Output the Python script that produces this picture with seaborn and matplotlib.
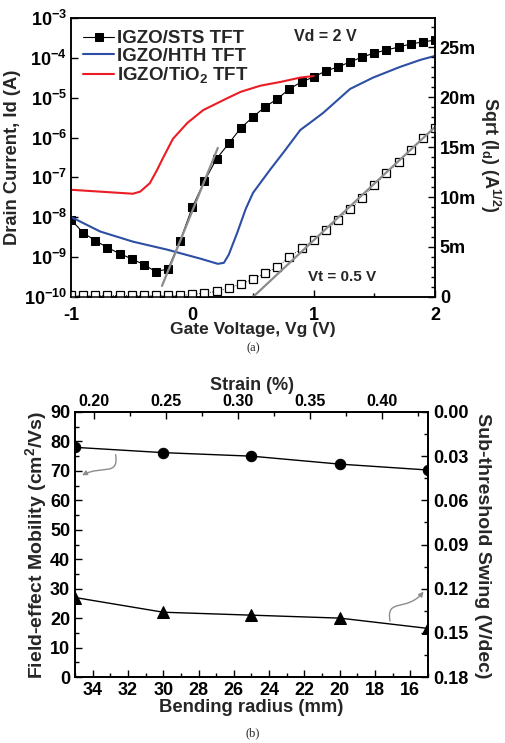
import numpy as np
import pandas as pd
import matplotlib
matplotlib.use("Agg")
import matplotlib.pyplot as plt
import seaborn as sns
from matplotlib.ticker import FixedLocator, MultipleLocator, NullLocator, FuncFormatter
from matplotlib.patches import FancyArrowPatch
from matplotlib.path import Path

# ---------------- (a) transfer characteristics, Vd = 2 V ----------------
vg_sts = [-1.0, -0.9, -0.8, -0.7, -0.6, -0.5, -0.4, -0.3, -0.2, -0.1,
          0.0, 0.1, 0.2, 0.3, 0.4, 0.5, 0.6, 0.7, 0.8, 0.9,
          1.0, 1.1, 1.2, 1.3, 1.4, 1.5, 1.6, 1.7, 1.8, 1.9, 2.0]
id_sts = [8.7e-9, 4.1e-9, 2.6e-9, 1.74e-9, 1.23e-9, 9.1e-10, 6.5e-10, 4.3e-10, 5.1e-10, 2.6e-9,
          1.8e-8, 8.1e-8, 2.95e-7, 7.1e-7, 1.74e-6, 3.3e-6, 5.9e-6, 9.3e-6, 1.66e-5, 2.5e-5,
          3.3e-5, 4.7e-5, 5.9e-5, 7.9e-5, 1.05e-4, 1.32e-4, 1.58e-4, 1.86e-4, 2.24e-4, 2.5e-4, 2.8e-4]
# sqrt(Id) of the STS device, in units of 1e-3 A^1/2
sqrt_sts = [0.15, 0.15, 0.15, 0.15, 0.15, 0.15, 0.15, 0.15, 0.15, 0.15,
            0.25, 0.4, 0.55, 0.9, 1.3, 1.8, 2.4, 3.0, 4.0, 4.85,
            5.7, 6.65, 7.7, 8.8, 9.9, 11.2, 12.4, 13.5, 14.7, 15.9, 16.9]

vg_hth = [-1.0, -0.76, -0.49, -0.21, 0.07, 0.21, 0.26, 0.30, 0.37, 0.44, 0.50,
          0.64, 0.75, 0.89, 1.00, 1.08, 1.30, 1.49, 1.71, 1.88, 2.00]
id_hth = [1.02e-8, 4.4e-9, 2.45e-9, 1.55e-9, 9.1e-10, 6.8e-10, 7.2e-10, 1.15e-9, 4.1e-9, 1.62e-8, 4.1e-8,
          1.55e-7, 4.2e-7, 1.55e-6, 2.75e-6, 4.2e-6, 1.66e-5, 3.2e-5, 5.9e-5, 8.9e-5, 1.12e-4]

vg_tio2 = [-1.0, -0.76, -0.49, -0.43, -0.35, -0.29, -0.25, -0.16, -0.04, 0.09,
           0.29, 0.40, 0.56, 0.73, 0.89, 1.00]
id_tio2 = [4.9e-8, 4.4e-8, 3.9e-8, 4.4e-8, 7.2e-8, 1.55e-7, 2.75e-7, 9.3e-7, 2.35e-6, 4.9e-6,
           9.8e-6, 1.41e-5, 2.0e-5, 2.5e-5, 3.2e-5, 3.5e-5]

# fit lines: subthreshold slope (log scale) and sqrt(Id) extrapolation to Vt
ss_fit_vg = [-0.25, 0.21]
ss_fit_id = [1.9e-10, 5.5e-7]
vt_fit_vg = [0.5, 2.0]
vt_fit_sqrt = [0.0, 17.0]

series_labels = ["IGZO/STS TFT", "IGZO/HTH TFT", "IGZO/TiO$_2$ TFT"]
sqrt_ticks = [0, 5, 10, 15, 20, 25]
sqrt_tick_labels = ["0", "5m", "10m", "15m", "20m", "25m"]

# ---------------- (b) bending test ----------------
radius = [35, 30, 25, 20, 15]
mobility = [78.0, 76.2, 75.0, 72.3, 70.3]
swing = [0.126, 0.136, 0.138, 0.140, 0.147]

RED = "#ec1c24"
BLUE = "#2c4ea3"
GRAY = "#8c8c8c"

sns.set_theme(style="ticks")
plt.rcParams["font.family"] = ["Liberation Sans", "DejaVu Sans"]
plt.rcParams["font.weight"] = "bold"
plt.rcParams["axes.labelweight"] = "bold"
plt.rcParams["mathtext.fontset"] = "custom"
plt.rcParams["mathtext.rm"] = "Liberation Sans:bold"
plt.rcParams["mathtext.bf"] = "Liberation Sans:bold"
plt.rcParams["mathtext.it"] = "Liberation Sans:bold"
plt.rcParams["mathtext.default"] = "bf"
plt.rcParams["axes.edgecolor"] = "black"
plt.rcParams["axes.linewidth"] = 1.1
plt.rcParams["xtick.color"] = "black"
plt.rcParams["ytick.color"] = "black"

W, H = 506, 743
fig = plt.figure(figsize=(W / 100, H / 100), dpi=100)


def box(l, t, r, b):
    return [l / W, 1 - b / H, (r - l) / W, (b - t) / H]


def style_ticks(ax, size=12):
    ax.tick_params(which="both", direction="in", colors="black", labelsize=size, width=1.0)
    ax.tick_params(which="major", length=5)
    ax.tick_params(which="minor", length=3)
    for lab in ax.get_xticklabels() + ax.get_yticklabels():
        lab.set_fontweight("bold")


# ---------- panel (a) ----------
ax = fig.add_axes(box(71, 18, 435, 297))
df_sts = pd.DataFrame({"Vg": vg_sts, "Id": id_sts, "sqrt": sqrt_sts})
df_hth = pd.DataFrame({"Vg": vg_hth, "Id": id_hth})
df_tio2 = pd.DataFrame({"Vg": vg_tio2, "Id": id_tio2})

sns.lineplot(data=df_sts, x="Vg", y="Id", ax=ax, color="black", linewidth=0.8,
             marker="s", markersize=5.6, markeredgecolor="black", sort=False, label=series_labels[0])
sns.lineplot(data=df_hth, x="Vg", y="Id", ax=ax, color=BLUE, linewidth=1.5, sort=False,
             label=series_labels[1])
sns.lineplot(data=df_tio2, x="Vg", y="Id", ax=ax, color=RED, linewidth=1.5, sort=False,
             label=series_labels[2])
sns.lineplot(x=ss_fit_vg, y=ss_fit_id, ax=ax, color=GRAY, linewidth=1.6, sort=False)

ax.set_yscale("log")
ax.set_ylim(1e-10, 1e-3)
ax.set_xlim(-1, 2)
ax.yaxis.set_major_locator(FixedLocator([10.0 ** k for k in range(-10, -2)]))
ax.yaxis.set_major_formatter(FuncFormatter(lambda v, p: "10$^{%d}$" % round(np.log10(v))))
ax.yaxis.set_minor_locator(NullLocator())
ax.xaxis.set_major_locator(MultipleLocator(1))
ax.xaxis.set_minor_locator(MultipleLocator(0.5))
ax.xaxis.set_major_formatter(FuncFormatter(lambda v, p: "%d" % round(v)))
style_ticks(ax, 13)
ax.tick_params(axis="y", which="major", pad=3)
ax.tick_params(axis="x", which="major", pad=7)
ax.set_xlabel("Gate Voltage, Vg (V)", fontsize=12.5, fontweight="bold", labelpad=-1)
ax.set_ylabel("Drain Current, Id (A)", fontsize=13.2, fontweight="bold", labelpad=2)

leg = ax.legend(loc="upper left", frameon=False, handlelength=1.65,
                handletextpad=0.15, labelspacing=0.02, borderaxespad=0.25,
                prop={"weight": "bold", "size": 13.5})

ax2 = ax.twinx()
sns.lineplot(data=df_sts, x="Vg", y="sqrt", ax=ax2, color="black", linewidth=0.6,
             linestyle=":", marker="s", markersize=5.6, markerfacecolor="white",
             markeredgecolor="black", markeredgewidth=0.9, sort=False)
sns.lineplot(x=vt_fit_vg, y=vt_fit_sqrt, ax=ax2, color=GRAY, linewidth=1.6, sort=False)
ax2.set_ylim(0, 27.9)
ax2.yaxis.set_major_locator(FixedLocator(sqrt_ticks))
ax2.yaxis.set_major_formatter(FuncFormatter(
    lambda v, p: sqrt_tick_labels[sqrt_ticks.index(int(round(v)))] if int(round(v)) in sqrt_ticks else ""))
ax2.yaxis.set_minor_locator(MultipleLocator(1))
style_ticks(ax2, 13)
ax2.set_ylabel("")
fig.text(490 / W, 1 - 155 / H, "Sqrt (I$_d$) (A$^{1/2}$)", rotation=-90, ha="center", va="center",
         fontsize=13, fontweight="bold")

ax.text(0.698, 0.932, "Vd = 2 V", transform=ax.transAxes, ha="center", va="center",
        fontsize=11.5, fontweight="bold")
ax.text(0.745, 0.072, "Vt = 0.5 V", transform=ax.transAxes, ha="center", va="center",
        fontsize=11, fontweight="bold")

fig.text(253 / W, 1 - 348 / H, "(a)", ha="center", va="center", fontsize=9,
         family=["Liberation Serif", "DejaVu Serif"], fontweight="normal")

# ---------- panel (b) ----------
bx = fig.add_axes(box(75, 412, 428, 677))
df_b = pd.DataFrame({"radius": radius, "mobility": mobility, "swing": swing})
sns.lineplot(data=df_b, x="radius", y="mobility", ax=bx, color="black", linewidth=1.0,
             marker="o", markersize=7.5, markeredgecolor="black", sort=False)
bx.set_xlim(35, 15)
bx.set_ylim(0, 90)
bx.xaxis.set_major_locator(MultipleLocator(2))
bx.xaxis.set_minor_locator(MultipleLocator(1))
bx.yaxis.set_major_locator(MultipleLocator(10))
bx.yaxis.set_minor_locator(MultipleLocator(5))
style_ticks(bx, 13)
bx.set_xlabel("Bending radius (mm)", fontsize=13.3, fontweight="bold", labelpad=0)
bx.set_ylabel("Field-effect Mobility (cm$^2$/Vs)", fontsize=14, fontweight="bold", labelpad=1)

br = bx.twinx()
sns.lineplot(data=df_b, x="radius", y="swing", ax=br, color="black", linewidth=1.0,
             marker="^", markersize=8.5, markeredgecolor="black", sort=False)
br.set_ylim(0.18, 0.0)
br.yaxis.set_major_locator(MultipleLocator(0.03))
br.yaxis.set_minor_locator(MultipleLocator(0.015))
br.yaxis.set_major_formatter(FuncFormatter(lambda v, p: "%.2f" % abs(v)))
style_ticks(br, 13)
br.set_ylabel("")
fig.text(483 / W, 1 - 546 / H, "Sub-threshold Swing (V/dec)", rotation=-90, ha="center", va="center",
         fontsize=14, fontweight="bold")

bt = bx.twiny()
bt.set_xlim(0.187, 0.432)
bt.xaxis.set_major_locator(MultipleLocator(0.05))
bt.xaxis.set_minor_locator(MultipleLocator(0.025))
bt.xaxis.set_major_formatter(FuncFormatter(lambda v, p: "%.2f" % v))
style_ticks(bt, 11.5)
bt.tick_params(axis="x", pad=2)
bt.set_xlabel("Strain (%)", fontsize=13, fontweight="bold", labelpad=3)

# curved pointers showing which axis each series belongs to
p_left = Path([(32.7, 75.5), (32.5, 68.0), (33.5, 72.0), (34.6, 68.5)],
              [Path.MOVETO, Path.CURVE4, Path.CURVE4, Path.CURVE4])
bx.add_patch(FancyArrowPatch(path=p_left, arrowstyle="-|>", mutation_scale=7,
                             color=GRAY, linewidth=1.0))
p_right = Path([(17.15, 19.0), (17.4, 27.0), (16.2, 22.0), (15.25, 29.0)],
               [Path.MOVETO, Path.CURVE4, Path.CURVE4, Path.CURVE4])
bx.add_patch(FancyArrowPatch(path=p_right, arrowstyle="-|>", mutation_scale=7,
                             color=GRAY, linewidth=1.0))

fig.text(253 / W, 1 - 733 / H, "(b)", ha="center", va="center", fontsize=9,
         family=["Liberation Serif", "DejaVu Serif"], fontweight="normal")

fig.savefig("out.png", dpi=100)
